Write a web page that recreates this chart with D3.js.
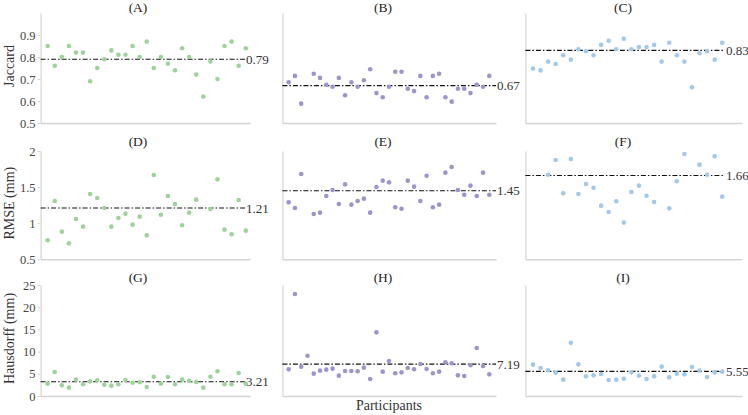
<!DOCTYPE html>
<html><head><meta charset="utf-8">
<script src="https://cdn.jsdelivr.net/npm/d3@7"></script>
<style>
html,body{margin:0;padding:0;background:#fff;}
svg{display:block;font-family:"Liberation Serif","Times New Roman",serif;}
svg text{font-family:"Liberation Serif","Times New Roman",serif !important;}
</style></head>
<body><svg id="chart" width="748" height="415"></svg>
<script>
// ---------- data ----------
const panelLabels = ["(A)","(B)","(C)","(D)","(E)","(F)","(G)","(H)","(I)"];
const rowTitles = ["Jaccard","RMSE (mm)","Hausdorff (mm)"];
const xTitle = "Participants";
const jaccardTicks = [0.5,0.6,0.7,0.8,0.9];
const rmseTicks = [0.5,1,1.5,2];
const hausdorffTicks = [0,5,10,15,20,25];
const meanValues = [0.79,0.67,0.83,1.21,1.45,1.66,3.21,7.19,5.55];

const jaccardA = [0.85,0.76,0.80,0.85,0.82,0.82,0.69,0.75,0.79,0.83,0.81,0.81,0.85,0.80,0.87,0.75,0.80,0.77,0.74,0.84,0.80,0.72,0.62,0.78,0.70,0.85,0.87,0.76,0.84];
const jaccardB = [0.685,0.714,0.588,null,0.724,0.705,0.674,0.665,0.705,0.626,0.685,0.665,0.694,0.744,0.636,0.617,0.665,0.733,0.733,0.656,0.645,0.714,0.617,0.714,0.724,0.617,0.597,0.656,0.656,0.636,0.674,0.665,0.714];
const jaccardC = [0.748,0.739,0.779,0.768,0.808,0.788,0.835,0.826,0.808,0.855,0.874,0.835,0.883,0.835,0.845,0.845,0.855,0.779,0.865,0.808,0.779,0.662,0.817,0.826,0.788,0.865];
const rmseD = [0.763,1.308,0.883,0.721,1.058,0.952,1.404,1.349,1.211,0.952,1.072,1.132,0.980,1.091,0.832,1.668,1.118,1.377,1.266,0.971,1.146,1.326,null,1.197,1.607,0.911,0.846,1.321,0.897];
const rmseE = [1.289,1.211,1.681,null,1.128,1.146,1.377,1.460,1.266,1.538,1.257,1.308,1.340,1.146,1.501,1.589,1.566,1.220,1.201,1.589,1.506,1.308,1.658,1.220,1.257,1.700,1.778,1.460,1.395,1.520,1.377,1.700,1.395];
const rmseF = [null,null,1.672,1.875,1.414,1.889,1.404,1.543,1.492,1.243,1.155,1.303,1.008,1.432,1.520,1.381,1.294,null,1.206,1.580,1.958,null,1.811,1.672,1.926,1.368];
const hausG = [2.78,5.41,2.40,1.88,3.68,2.63,3.30,3.53,2.55,2.33,2.63,3.60,3.00,3.08,2.03,4.35,2.78,4.28,2.63,3.68,3.45,3.15,1.88,4.35,5.56,2.63,2.63,5.18,2.78];
const hausH = [6.00,22.97,6.61,9.08,5.03,5.71,5.93,6.16,4.58,5.63,5.63,5.56,6.38,3.83,14.34,5.48,7.88,5.11,5.33,6.31,6.01,7.21,6.08,5.11,5.48,7.58,7.36,4.65,4.50,6.91,10.81,6.76,4.88];
const hausI = [7.06,6.31,5.78,5.26,3.68,12.01,7.13,4.43,4.65,4.95,3.60,3.68,3.90,5.33,4.58,3.83,4.43,6.61,4.20,5.03,4.88,6.53,5.71,4.28,5.33,5.48];

const seriesByPanel = [jaccardA,jaccardB,jaccardC,rmseD,rmseE,rmseF,hausG,hausH,hausI];
const rowDomains = [[0.5,1.0],[0.5,2.0],[0,25]];
const rowTicks = [jaccardTicks, rmseTicks, hausdorffTicks];

// ---------- layout ----------
const colColors = ["#9fd29b","#9c95cc","#a3c8e8"];
const colX0 = [40.6, 282.4, 525.4];
const colX1 = [250, 496, 741.7];
const colXMax = [29.6, 34.07, 28.57];
const colLabelX = [246, 497, 726];
const colTitleX = [138, 383, 623];
const rowY0 = [123, 259.3, 396];   // bottom
const rowY1 = [13, 151, 285];      // top
const rowTitleY = [11.5, 146, 281.5];

const svg = d3.select("#chart");
const fmt = d3.format(".2f");

for (let r = 0; r < 3; r++) {
  const y = d3.scaleLinear().domain(rowDomains[r]).range([rowY0[r], rowY1[r]]);
  for (let c = 0; c < 3; c++) {
    const p = r*3 + c;
    const data = seriesByPanel[p];
    const x = d3.scaleLinear().domain([0, colXMax[c]]).range([colX0[c], colX1[c]]);
    const g = svg.append("g");

    // y axis
    const ya = g.append("g").attr("transform", `translate(${colX0[c]},0)`)
      .call(c === 0
        ? d3.axisLeft(y).tickValues(rowTicks[r]).tickSize(3).tickSizeOuter(0).tickFormat(d3.format(""))
        : d3.axisLeft(y).tickValues([]).tickSizeOuter(0));
    ya.attr("font-family",'"Liberation Serif",serif');
    ya.select(".domain").attr("stroke","#d4d4d4").attr("stroke-width",1.2);
    ya.selectAll(".tick line").attr("stroke","#d4d4d4");
    ya.selectAll(".tick text").attr("fill","#444").attr("font-size","12.5px").attr("x",-5);

    // x axis
    const xa = g.append("g").attr("transform", `translate(0,${rowY0[r]})`)
      .call(d3.axisBottom(x).tickValues([]).tickSizeOuter(0));
    xa.select(".domain").attr("stroke","#d4d4d4").attr("stroke-width",1.4);

    // mean line
    const m = meanValues[p];
    g.append("line")
      .attr("x1", colX0[c]).attr("x2", colLabelX[c]-1)
      .attr("y1", y(m)).attr("y2", y(m))
      .attr("stroke","#111").attr("stroke-width",1.1)
      .attr("stroke-dasharray","5,2,1.5,2");
    g.append("text")
      .attr("x", colLabelX[c]).attr("y", y(m))
      .attr("dominant-baseline","central")
      .attr("font-size","13px").attr("fill","#333")
      .text(fmt(m));

    // points
    const pts = data.map((v,i)=>({i:i+1,v})).filter(d=>d.v!==null);
    g.selectAll("circle").data(pts).enter().append("circle")
      .attr("cx", d=>x(d.i)).attr("cy", d=>y(d.v))
      .attr("r", 2.3).attr("fill", colColors[c]);

    // panel title
    svg.append("text")
      .attr("x", colTitleX[c]).attr("y", rowTitleY[r])
      .attr("text-anchor","middle").attr("font-size","13.5px").attr("fill","#222")
      .text(panelLabels[p]);
  }
  // row title
  svg.append("text")
    .attr("transform", `translate(14,${(rowY0[r]+rowY1[r])/2 - 2}) rotate(-90)`)
    .attr("text-anchor","middle").attr("font-size","14px").attr("fill","#333")
    .text(rowTitles[r]);
}

svg.append("text")
  .attr("x", 389).attr("y", 409.5)
  .attr("text-anchor","middle").attr("font-size","14px").attr("fill","#333")
  .text(xTitle);
</script>
</body></html>
